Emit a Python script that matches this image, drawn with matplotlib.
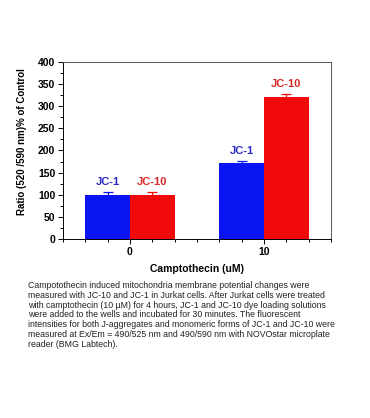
import matplotlib
matplotlib.use("Agg")
import matplotlib.pyplot as plt
from matplotlib.ticker import MultipleLocator
import numpy as np

plt.rcParams["font.family"] = ["Liberation Sans", "DejaVu Sans"]

doses = ["0", "10"]
series = ["JC-1", "JC-10"]
jc1 = [100, 171]
jc10 = [100, 321]
jc1_err = [6, 5]
jc10_err = [6, 6]
colors = ["#0a14f0", "#f00a0a"]
label_colors = ["#2828c8", "#d82828"]

caption = (
    "Campotothecin induced mitochondria membrane potential changes were\n"
    "measured with JC-10 and JC-1 in Jurkat cells. After Jurkat cells were treated\n"
    "with camptothecin (10 \u00b5M) for 4 hours, JC-1 and JC-10 dye loading solutions\n"
    "were added to the wells and incubated for 30 minutes. The fluorescent\n"
    "intensities for both J-aggregates and monomeric forms of JC-1 and JC-10 were\n"
    "measured at Ex/Em = 490/525 nm and 490/590 nm with NOVOstar microplate\n"
    "reader (BMG Labtech)."
)

fig = plt.figure(figsize=(3.7, 4.18), dpi=100)
ax = fig.add_axes([0.170, 0.428, 0.725, 0.424])

x = np.arange(len(doses))
w = 1 / 3
for i, (vals, errs) in enumerate([(jc1, jc1_err), (jc10, jc10_err)]):
    pos = x + (i - 0.5) * w
    ax.bar(pos, vals, width=w, color=colors[i], yerr=errs,
           error_kw=dict(ecolor=colors[i], capsize=3.5, elinewidth=0.9, capthick=0.9))
    for p, v, e in zip(pos, vals, errs):
        ax.text(p, v + e + 12, series[i], ha="center", va="bottom",
                color=label_colors[i], fontsize=8, fontweight="bold")

ax.set_xlim(-0.5, 1.5)
ax.set_ylim(0, 400)
ax.set_xticks(x)
ax.set_xticklabels(doses, fontsize=7.5, fontweight="bold")
ax.xaxis.set_minor_locator(MultipleLocator(1 / 6))
ax.yaxis.set_major_locator(MultipleLocator(50))
ax.yaxis.set_minor_locator(MultipleLocator(25))
for lab in ax.get_yticklabels():
    lab.set_fontsize(7.5)
    lab.set_fontweight("bold")
ax.tick_params(which="both", direction="out", top=False, right=False, width=0.7)
ax.tick_params(which="major", length=3.5, pad=2)
ax.tick_params(which="minor", length=2)
for s in ax.spines.values():
    s.set_linewidth(0.7)
    s.set_color("#555555")
ax.spines["left"].set_color("black")
ax.spines["bottom"].set_color("black")

ax.set_ylabel("Ratio (520 /590 nm)% of Control", fontsize=7, fontweight="bold")
ax.yaxis.set_label_coords(-0.135, 0.55)
ax.set_xlabel("Camptothecin (uM)", fontsize=7.5, fontweight="bold", labelpad=5)

fig.text(0.076, 0.328, caption, ha="left", va="top",
         fontsize=6.3, linespacing=1.12, color="#222222")

fig.savefig("out.png", dpi=100)
